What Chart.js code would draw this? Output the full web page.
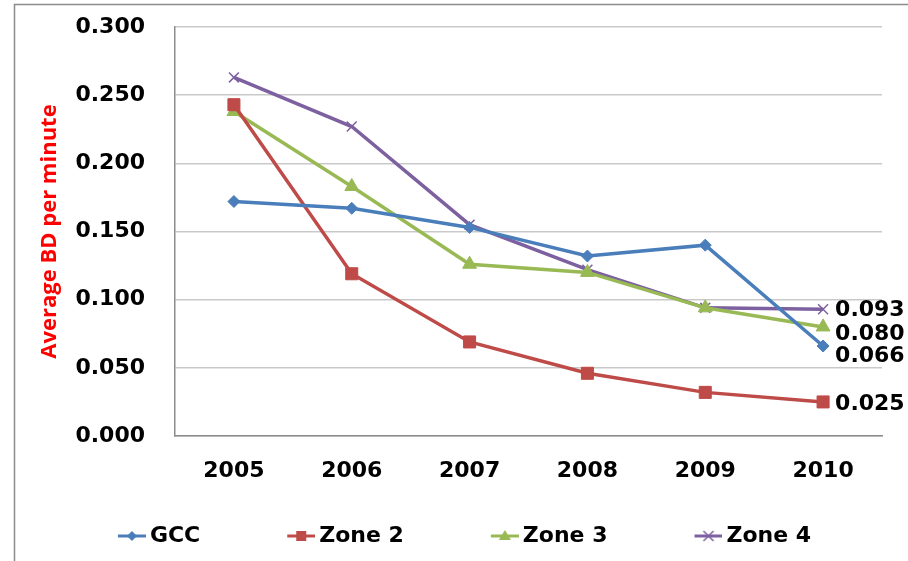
<!DOCTYPE html>
<html>
<head>
<meta charset="utf-8">
<script src="https://cdn.jsdelivr.net/npm/chart.js@4.4.0/dist/chart.umd.min.js"></script>
<style>
  html, body { margin: 0; padding: 0; background: #fff; }
  #wrap { width: 908px; height: 561px; }
</style>
</head>
<body>
<div id="wrap"><canvas id="myChart" width="908" height="561"></canvas></div>
<script>
// values
var years = ["2005", "2006", "2007", "2008", "2009", "2010"];
var gcc   = [0.172, 0.167, 0.153, 0.132, 0.140, 0.066];
var zone2 = [0.243, 0.119, 0.069, 0.046, 0.032, 0.025];
var zone3 = [0.238, 0.183, 0.126, 0.120, 0.094, 0.080];
var zone4 = [0.263, 0.227, 0.155, 0.122, 0.094, 0.093];
var yTicks = [0, 0.05, 0.1, 0.15, 0.2, 0.25, 0.3];

var FONT = "'DejaVu Sans', sans-serif";

// little line+marker swatch for the legend (marker sits at the right end)
function swatch(color, shape) {
    var c = document.createElement('canvas');
    c.width = 112; c.height = 22;
    var g = c.getContext('2d');
    var cx = 112 - 14, cy = 11;
    g.strokeStyle = color; g.fillStyle = color; g.lineWidth = 3;
    g.beginPath(); g.moveTo(112 - 28, cy); g.lineTo(112, cy); g.stroke();
    g.beginPath();
    if (shape === 'rectRot') {
        g.moveTo(cx, cy - 5); g.lineTo(cx + 5, cy); g.lineTo(cx, cy + 5); g.lineTo(cx - 5, cy); g.closePath(); g.fill();
    } else if (shape === 'rect') {
        g.rect(cx - 5, cy - 5, 10, 10); g.fill();
    } else if (shape === 'triangle') {
        g.moveTo(cx, cy - 6); g.lineTo(cx + 6, cy + 4); g.lineTo(cx - 6, cy + 4); g.closePath(); g.fill();
    } else {
        g.lineWidth = 1.5;
        g.moveTo(cx - 5, cy - 5); g.lineTo(cx + 5, cy + 5);
        g.moveTo(cx + 5, cy - 5); g.lineTo(cx - 5, cy + 5); g.stroke();
    }
    return c;
}

function series(label, data, color, shape, radius, labelShift) {
    return {
        label: label,
        data: data,
        borderColor: color,
        backgroundColor: color,
        pointBackgroundColor: color,
        pointBorderColor: color,
        borderWidth: 3.5,
        pointStyle: shape,
        pointRadius: radius,
        pointBorderWidth: shape === 'crossRot' ? 1.5 : 1,
        tension: 0,
        legendSwatch: swatch(color, shape),
        labelShift: labelShift
    };
}

// frame around the whole chart + value labels at the last point
var extras = {
    id: 'extras',
    afterLayout: function (chart) {
        chart.legend.left -= 22;
        chart.legend.right -= 22;
    },
    beforeDraw: function (chart) {
        var c = chart.ctx;
        c.save();
        c.strokeStyle = '#8c8c8c';
        c.lineWidth = 1.5;
        c.beginPath();
        c.moveTo(14.5, 600); c.lineTo(14.5, 4.5); c.lineTo(950, 4.5);
        c.stroke();
        c.restore();
    },
    afterDatasetsDraw: function (chart) {
        var c = chart.ctx;
        c.save();
        c.font = 'bold 22px ' + FONT;
        c.fillStyle = '#000';
        c.textAlign = 'left';
        c.textBaseline = 'middle';
        chart.data.datasets.forEach(function (ds, i) {
            var pts = chart.getDatasetMeta(i).data;
            var last = pts[pts.length - 1];
            var v = ds.data[ds.data.length - 1];
            c.fillText(v.toFixed(3), last.x + 12, last.y + ds.labelShift);
        });
        c.restore();
    }
};

var ctx = document.getElementById('myChart').getContext('2d');

var myChart = new Chart(ctx, {
    type: 'line',
    data: {
        labels: years,
        datasets: [
            series("GCC", gcc, '#4a7ebb', 'rectRot', 6, 10),
            series("Zone 2", zone2, '#be4b48', 'rect', 8.5, 2),
            series("Zone 3", zone3, '#98b954', 'triangle', 8, 7),
            series("Zone 4", zone4, '#7d60a0', 'crossRot', 7, 1)
        ]
    },
    options: {
        responsive: false,
        animation: false,
        layout: { padding: { left: 14, top: 27, right: 26, bottom: 4 } },
        plugins: {
            tooltip: { enabled: false },
            legend: {
                position: 'bottom',
                labels: {
                    usePointStyle: true,
                    pointStyleWidth: 98,
                    padding: 10,
                    color: '#000',
                    font: { family: FONT, size: 22, weight: 'bold' },
                    generateLabels: function (chart) {
                        return chart.data.datasets.map(function (ds, i) {
                            return {
                                text: ds.label,
                                pointStyle: ds.legendSwatch,
                                fillStyle: ds.borderColor,
                                strokeStyle: ds.borderColor,
                                lineWidth: 0,
                                hidden: false,
                                datasetIndex: i
                            };
                        });
                    }
                }
            }
        },
        scales: {
            x: {
                offset: true,
                grid: { display: false, drawTicks: false },
                border: { display: true, color: '#8c8c8c', width: 1.5 },
                ticks: {
                    color: '#000',
                    padding: 22,
                    maxRotation: 0,
                    font: { family: FONT, size: 22, weight: 'bold' }
                },
                afterFit: function (scale) { scale.height = 79; }
            },
            y: {
                min: 0,
                max: 0.3,
                afterBuildTicks: function (scale) {
                    scale.ticks = yTicks.map(function (v) { return { value: v }; });
                },
                grid: { color: '#c9c9c9', lineWidth: 1.5, drawTicks: false },
                border: { display: true, color: '#8c8c8c', width: 1.5 },
                ticks: {
                    color: '#000',
                    padding: 30,
                    font: { family: FONT, size: 22, weight: 'bold' },
                    callback: function (v) { return Number(v).toFixed(3); }
                },
                title: {
                    display: true,
                    text: 'Average BD per minute',
                    color: '#ff0000',
                    padding: { top: 23, bottom: 0 },
                    font: { family: "'Open Sans', sans-serif", size: 22, weight: 'bold' }
                },
                afterFit: function (scale) {
                    scale.width = 161;
                    scale.paddingTop = 0;
                    scale.paddingBottom = 0;
                }
            }
        }
    },
    plugins: [extras]
});
</script>
</body>
</html>
